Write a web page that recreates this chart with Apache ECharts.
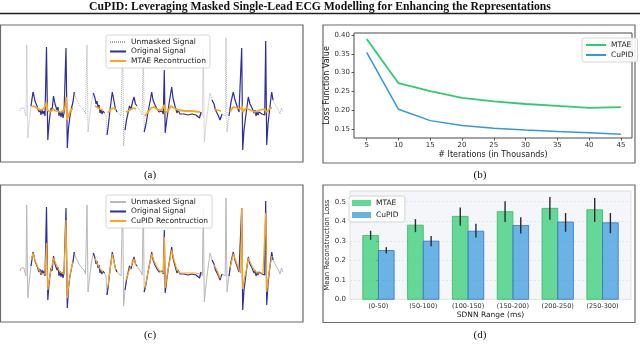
<!DOCTYPE html>
<html><head><meta charset="utf-8">
<script src="https://cdn.jsdelivr.net/npm/echarts@6/dist/echarts.min.js"></script>
<style>html,body{margin:0;padding:0;background:#fff}#c{width:640px;height:358px}</style>
</head><body><div id="c"></div>
<script>
// ---------- Panel (b): loss curves ----------
const iterK = [5, 10, 15, 20, 25, 30, 35, 40, 45];
const lossMTAE = [0.389, 0.272, 0.251, 0.233, 0.224, 0.217, 0.212, 0.207, 0.209];
const lossCuPID = [0.354, 0.203, 0.173, 0.160, 0.153, 0.148, 0.144, 0.141, 0.137];
const lossTicks = [0.15, 0.20, 0.25, 0.30, 0.35, 0.40];

// ---------- Panel (d): reconstruction loss by SDNN range ----------
const sdnnCats = ['(0-50)', '(50-100)', '(100-150)', '(150-200)', '(200-250)', '(250-300)'];
const recMTAE = [0.327, 0.380, 0.425, 0.449, 0.466, 0.459];
const recMTAElo = [0.305, 0.344, 0.377, 0.396, 0.408, 0.397];
const recMTAEhi = [0.351, 0.411, 0.471, 0.502, 0.524, 0.519];
const recCuPID = [0.250, 0.298, 0.349, 0.378, 0.396, 0.392];
const recCuPIDlo = [0.235, 0.272, 0.317, 0.337, 0.346, 0.339];
const recCuPIDhi = [0.267, 0.324, 0.387, 0.420, 0.442, 0.442];

// ---------- Panels (a)/(c): ECG signal (time, amplitude) ----------
const ecgSignal = [[20,-1],[21,2],[22,3],[23,0],[24,2],[25,-3],[26,-6],[26.7,65],[27.8,-28],[29,-14],[31,4],[33,18],[34,14],[35,9],[36,10],[37,4],[38,6],[39,-2],[40,1],[41,-5],[42,0],[43,-4],[44,-1],[45,-6],[46.5,63],[47.8,-30],[49,-14],[50,-5],[51,2],[52,-1],[53.5,14],[55,6],[56,8],[57,0],[58,3],[59,-6],[60,-1],[61,-7],[62,-2],[63,-8],[64,-3],[65,-5],[66,62],[67.3,-38],[68.5,-18],[70,-6],[71.5,2],[73,8],[74.3,18],[76,12],[78,8],[80,4],[82,3],[84,0],[85.5,-4],[87,65],[88,-22],[90,-4],[91.5,8],[93.3,17],[95,12],[96,6],[97,9],[98,2],[99,5],[100,-3],[101,0],[102,-4],[103,-1],[104.5,-3],[106,-6],[107,-25],[108,-18],[110,0],[112.3,18],[113.5,12],[114.5,6],[115.5,1],[117,-2],[119,-3],[121,-6],[122.7,70],[123.6,-36],[125,-20],[126.5,-10],[128,-3],[129.5,4],[131,1],[132.5,8],[134,13],[135.5,6],[137,4],[139,1],[141,-2],[142.2,-5],[143.3,70],[144.2,-22],[146,-14],[148,-2],[150,8],[151.7,18],[153,10],[154,12],[155,5],[156,7],[157,1],[158,3],[159,-2],[160,0],[161,-4],[162,-1],[163.3,-4],[164.3,40],[165.2,-23],[167,-8],[169,6],[171.7,23],[173,12],[174,14],[175,4],[176,5],[177,-3],[178,0],[180,-4],[182,-2],[184,-4],[186,-3],[188,-5],[190,-3],[192,-4],[194,-2],[196,-5],[198,-3],[199.5,-8],[201,-2],[202.3,-6],[203.3,63],[204.3,-32],[206,-15],[208,2],[210,17],[212,10],[214,6],[215.5,0],[217,2],[218.5,-6],[220,-10],[222,-4],[224,-2],[225.2,-6],[226,72],[227,-22],[229,-6],[231,8],[233.3,18],[235,10],[236,12],[237,4],[238,6],[239,-2],[240.7,-4],[241.7,62],[242.7,-40],[244,-20],[246,-4],[248.3,13],[250,6],[251,8],[252,2],[253,4],[254,-3],[255,0],[256,-6],[257,-2],[258,-5],[259,-2],[260,-4],[261,-1],[262,-4],[263,-2],[264.7,-5],[265.7,69],[266.7,-35],[268,-14],[270,4],[271.7,18],[273,10],[274,11],[276,4],[278,1],[280,-4],[281.5,2],[283,-2]];
const maskedRanges = [[31.5,73],[95,103],[108,116],[126,136],[145,200],[214,221],[230,272]];
const mtaeRecon = [
  [[31.5,3],[34,4],[37,2],[40,0],[43,1],[45.5,4],[46.5,8],[47.5,0],[50,-2],[53,1],[56,-1],[60,-2],[63,-1],[65.5,4],[66,13],[67,-10],[69,-4],[71,0],[73,2]],
  [[95,4],[97,2],[100,1],[103,0]],
  [[108,-3],[111,1],[114,2],[116,0]],
  [[126,-2],[130,0],[133,2],[136,1]],
  [[145,-6],[148,-2],[151,2],[154,3],[158,0],[162,0],[164.3,5],[165.5,-3],[168,-1],[171,4],[174,2],[178,0],[185,-1],[192,-1],[200,-2]],
  [[214,1],[217,0],[221,-1]],
  [[230,-2],[233,3],[237,2],[241,1],[242,4],[243,-2],[246,2],[250,0],[255,-2],[260,0],[264,1],[265.7,2],[267,-2],[270,2],[272,2]]
];
const cupidRecon = [
  [[31.5,10],[33,17],[35,10],[37,5],[39,0],[41,-3],[43,-2],[45,-4],[46.5,27],[47.8,-20],[50,-5],[53.5,12],[56,6],[58,2],[60,-2],[62,-4],[64,-4],[65.3,-2],[66,50],[67.3,-28],[69,-12],[71,0],[73,8]],
  [[95,12],[97,7],[99,3],[101,0],[103,-2]],
  [[108,-16],[110,0],[112.3,16],[114,8],[116,0]],
  [[126,-10],[128,-4],[130,2],[132,6],[134,11],[136,5]],
  [[145,-18],[148,-2],[151.7,16],[154,9],[157,3],[160,-1],[163.3,-3],[164.3,33],[165.2,-18],[167,-6],[169,5],[171.7,20],[174,10],[177,0],[180,-3],[185,-3],[190,-3],[195,-3],[200,-4]],
  [[214,5],[217,0],[220,-8],[221,-6]],
  [[230,2],[233.3,16],[236,9],[239,0],[240.7,-3],[241.7,62],[242.7,-19],[244,-10],[246,-2],[248.3,12],[251,6],[254,0],[257,-3],[260,-3],[263,-3],[264.7,-4],[265.7,57],[266.7,-22],[268,-10],[270,4],[272,14]]
];

// ---------- helpers (splitting only, no value generation) ----------
function inMask(x){ return maskedRanges.some(r => x >= r[0] && x <= r[1]); }
function splitSignal(wantMasked){
  return ecgSignal.map((p, i) => {
    const self = inMask(p[0]) === wantMasked;
    const prev = i > 0 && inMask(ecgSignal[i-1][0]) === wantMasked;
    const next = i < ecgSignal.length-1 && inMask(ecgSignal[i+1][0]) === wantMasked;
    return (self || prev || next) ? p : [p[0], '-'];
  });
}
function joinSegs(segs){
  const out = [];
  segs.forEach((s, k) => { if (k) out.push([s[0][0]-0.1, '-']); s.forEach(p => out.push(p)); });
  return out;
}
const grayData = splitSignal(false);
const blueData = splitSignal(true);

const FONT = 'DejaVu Sans';
const GREEN = '#2ecc71', BLUE = '#3498db';
const SIG_BLUE = '#2d2f9e', ORANGE = '#ffa617';

function errItem(off){
  return function(params, api){
    const i = api.value(0), lo = api.value(1), hi = api.value(2);
    const a = api.coord([i + off, lo]), b = api.coord([i + off, hi]);
    return {type:'line', shape:{x1:a[0], y1:a[1], x2:b[0], y2:b[1]}, style:{stroke:'#2b2b2b', lineWidth:1.4}};
  };
}
function barItem(x0, x1, fill, stroke){
  return function(params, api){
    const i = api.value(0), v = api.value(1);
    const a = api.coord([i + x0, v]), b = api.coord([i + x1, 0]);
    return {type:'rect', shape:{x:a[0], y:a[1], width:b[0]-a[0], height:b[1]-a[1]}, style:{fill:fill, stroke:stroke, lineWidth:0.8}};
  };
}

const chart = echarts.init(document.getElementById('c'), null, {renderer:'canvas'});
const ecgX = (g) => ({gridIndex:g, type:'value', min:0, max:303, show:false});
const ecgY = (g) => ({gridIndex:g, type:'value', min:-52, max:85, show:false});
const legendBase = {
  orient:'vertical', itemGap:1.5, padding:[3,4,3,3],
  backgroundColor:'rgba(255,255,255,0.85)', borderColor:'#cccccc', borderWidth:0.8, borderRadius:2,
  itemStyle:{opacity:0},
  textStyle:{fontSize:7.5, color:'#222', fontFamily:FONT}
};

const option = {
  animation:false,
  backgroundColor:'#ffffff',
  grid:[
    {left:0, top:25, width:303, height:137},                       // (a)
    {left:354, top:33, width:278, height:105, show:true, borderColor:'#333', borderWidth:0.9, backgroundColor:'#fff'}, // (b)
    {left:0, top:185, width:303, height:137},                      // (c)
    {left:350, top:191, width:281, height:108.3, show:true, borderColor:'#dcdcdc', borderWidth:0.8, backgroundColor:'#f4f6f9'} // (d)
  ],
  xAxis:[
    ecgX(0),
    {gridIndex:1, type:'value', min:3, max:46.75,
      name:'# Iterations (in Thousands)', nameLocation:'middle', nameGap:13,
      nameTextStyle:{fontSize:8, color:'#222', fontFamily:FONT},
      axisLine:{show:false}, splitLine:{show:false},
      axisTick:{show:true, length:2.5, customValues:iterK, lineStyle:{color:'#333', width:0.8}},
      axisLabel:{customValues:iterK, fontSize:7, color:'#333', fontFamily:FONT, margin:4}},
    ecgX(2),
    {gridIndex:3, type:'value', min:-0.635, max:5.635,
      name:'SDNN Range (ms)', nameLocation:'middle', nameGap:12,
      nameTextStyle:{fontSize:7.5, color:'#222', fontFamily:FONT},
      axisLine:{show:false}, splitLine:{show:false}, axisTick:{show:false},
      axisLabel:{customValues:[0,1,2,3,4,5], formatter:(v)=>sdnnCats[Math.round(v)], fontSize:6.5, color:'#333', fontFamily:FONT, margin:4}}
  ],
  yAxis:[
    ecgY(0),
    {gridIndex:1, type:'value', min:0.127, max:0.405,
      name:'Loss Function Value', nameLocation:'middle', nameGap:14,
      nameTextStyle:{fontSize:8, color:'#222', fontFamily:FONT},
      axisLine:{show:false}, splitLine:{show:false},
      axisTick:{show:true, length:2.5, customValues:lossTicks, lineStyle:{color:'#333', width:0.8}},
      axisLabel:{customValues:lossTicks, formatter:(v)=>v.toFixed(2), fontSize:7, color:'#333', fontFamily:FONT, margin:4}},
    ecgY(2),
    {gridIndex:3, type:'value', min:0, max:0.555, interval:0.1,
      name:'Mean Reconstruction Loss', nameLocation:'middle', nameGap:13,
      nameTextStyle:{fontSize:7, color:'#222', fontFamily:FONT},
      axisLine:{show:false},
      splitLine:{show:true, lineStyle:{color:'#dfe2e6', width:0.8, type:[2,2]}},
      axisTick:{show:true, length:2.5, lineStyle:{color:'#555', width:0.8}},
      axisLabel:{showMaxLabel:false, formatter:(v)=>v.toFixed(1), fontSize:7, color:'#333', fontFamily:FONT, margin:4}}
  ],
  legend:[
    Object.assign({}, legendBase, {left:106, top:35, itemWidth:16, itemHeight:8,
      data:['Unmasked Signal','Original Signal','MTAE Recontruction']}),
    Object.assign({}, legendBase, {left:106, top:195, itemWidth:16, itemHeight:8,
      data:['Unmasked Signal ','Original Signal ','CuPID Recontruction']}),
    Object.assign({}, legendBase, {left:582, top:38, itemWidth:20, itemHeight:8, itemGap:2,
      data:['MTAE','CuPID']}),
    Object.assign({}, legendBase, {left:349, top:196, itemWidth:19, itemHeight:6, itemGap:4, padding:[3,4,3,3],
      itemStyle:{},
      data:[{name:'MTAE ', icon:'rect', itemStyle:{color:'rgba(46,204,113,0.75)'}},
            {name:'CuPID ', icon:'rect', itemStyle:{color:'rgba(52,152,219,0.75)'}}]})
  ],
  series:[
    // (a)
    {name:'Unmasked Signal', type:'line', xAxisIndex:0, yAxisIndex:0, data:grayData, symbol:'none',
      lineStyle:{color:'#a8a8a8', width:0.9, type:[1,1]}, itemStyle:{color:'#a8a8a8'}},
    {name:'Original Signal', type:'line', xAxisIndex:0, yAxisIndex:0, data:blueData, symbol:'none',
      lineStyle:{color:SIG_BLUE, width:1.2}, itemStyle:{color:SIG_BLUE}},
    {name:'MTAE Recontruction', type:'line', xAxisIndex:0, yAxisIndex:0, data:joinSegs(mtaeRecon), symbol:'none',
      lineStyle:{color:ORANGE, width:1.8}, itemStyle:{color:ORANGE}},
    // (c)
    {name:'Unmasked Signal ', type:'line', xAxisIndex:2, yAxisIndex:2, data:grayData, symbol:'none',
      lineStyle:{color:'#b8b8b8', width:1}, itemStyle:{color:'#b8b8b8'}},
    {name:'Original Signal ', type:'line', xAxisIndex:2, yAxisIndex:2, data:blueData, symbol:'none',
      lineStyle:{color:SIG_BLUE, width:1.2}, itemStyle:{color:SIG_BLUE}},
    {name:'CuPID Recontruction', type:'line', xAxisIndex:2, yAxisIndex:2, data:joinSegs(cupidRecon), symbol:'none',
      lineStyle:{color:ORANGE, width:1.2}, itemStyle:{color:ORANGE}},
    // (b)
    {name:'MTAE', type:'line', xAxisIndex:1, yAxisIndex:1, symbol:'none',
      data:iterK.map((k,i)=>[k, lossMTAE[i]]), lineStyle:{color:GREEN, width:1.8}, itemStyle:{color:GREEN}},
    {name:'CuPID', type:'line', xAxisIndex:1, yAxisIndex:1, symbol:'none',
      data:iterK.map((k,i)=>[k, lossCuPID[i]]), lineStyle:{color:BLUE, width:1.5}, itemStyle:{color:BLUE}},
    // (d)
    {name:'MTAE ', type:'custom', xAxisIndex:3, yAxisIndex:3, itemStyle:{color:'rgba(46,204,113,0.75)'},
      renderItem:barItem(-0.35, 0, 'rgba(46,204,113,0.72)', '#37b868'),
      encode:{x:0, y:1}, data:recMTAE.map((v,i)=>[i, v])},
    {name:'CuPID ', type:'custom', xAxisIndex:3, yAxisIndex:3, itemStyle:{color:'rgba(52,152,219,0.75)'},
      renderItem:barItem(0, 0.35, 'rgba(52,152,219,0.72)', '#3a6fd6'),
      encode:{x:0, y:1}, data:recCuPID.map((v,i)=>[i, v])},
    {name:'errMTAE', type:'custom', xAxisIndex:3, yAxisIndex:3, renderItem:errItem(-0.175),
      encode:{x:0, y:[1,2]}, data:recMTAE.map((v,i)=>[i, recMTAElo[i], recMTAEhi[i]]), z:5},
    {name:'errCuPID', type:'custom', xAxisIndex:3, yAxisIndex:3, renderItem:errItem(0.175),
      encode:{x:0, y:[1,2]}, data:recCuPID.map((v,i)=>[i, recCuPIDlo[i], recCuPIDhi[i]]), z:5}
  ],
  graphic:[
    {type:'text', left:'center', top:0.5, style:{text:'CuPID: Leveraging Masked Single-Lead ECG Modelling for Enhancing the Representations',
      font:'bold 11.7px "Liberation Serif"', fill:'#111'}},
    {type:'line', shape:{x1:0, y1:13.5, x2:640, y2:13.5}, style:{stroke:'#222', lineWidth:1.5}},
    {type:'rect', shape:{x:0.5, y:25, width:302.5, height:137}, style:{fill:'none', stroke:'#6a6a6a', lineWidth:1.2}},
    {type:'rect', shape:{x:323, y:25, width:312, height:138}, style:{fill:'none', stroke:'#6a6a6a', lineWidth:1.2}},
    {type:'rect', shape:{x:0.5, y:185, width:302.5, height:137}, style:{fill:'none', stroke:'#6a6a6a', lineWidth:1.2}},
    {type:'rect', shape:{x:323, y:185, width:312, height:137.5}, style:{fill:'none', stroke:'#6a6a6a', lineWidth:1.2}},
    {type:'text', x:150, y:175, style:{text:'(a)', font:'11px "Liberation Serif"', fill:'#111', align:'center', verticalAlign:'middle'}},
    {type:'text', x:480, y:175, style:{text:'(b)', font:'11px "Liberation Serif"', fill:'#111', align:'center', verticalAlign:'middle'}},
    {type:'text', x:150, y:335, style:{text:'(c)', font:'11px "Liberation Serif"', fill:'#111', align:'center', verticalAlign:'middle'}},
    {type:'text', x:480, y:335, style:{text:'(d)', font:'11px "Liberation Serif"', fill:'#111', align:'center', verticalAlign:'middle'}}
  ]
};
chart.setOption(option);
</script>
</body></html>
